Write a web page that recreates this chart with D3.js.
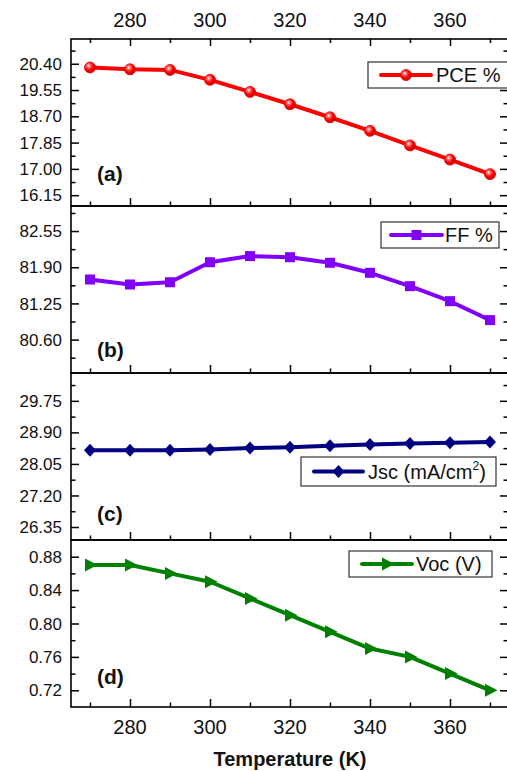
<!DOCTYPE html>
<html><head><meta charset="utf-8">
<script src="https://cdn.jsdelivr.net/npm/d3@7"></script>
<style>body{margin:0;background:#fff}svg{display:block;font-family:"Liberation Sans",Arial,sans-serif}</style>
</head><body>
<svg id="c" width="507" height="771"></svg>
<script>
const temps = [270, 280, 290, 300, 310, 320, 330, 340, 350, 360, 370];
const pce = [20.28, 20.22, 20.20, 19.88, 19.49, 19.09, 18.67, 18.23, 17.76, 17.30, 16.83];
const ff  = [81.68, 81.59, 81.63, 81.99, 82.10, 82.08, 81.98, 81.80, 81.56, 81.29, 80.95];
const jsc = [28.42, 28.42, 28.42, 28.44, 28.48, 28.50, 28.54, 28.57, 28.60, 28.62, 28.64];
const voc = [0.87, 0.87, 0.86, 0.85, 0.83, 0.81, 0.79, 0.77, 0.76, 0.74, 0.72];
const xTickLabels = [280, 300, 320, 340, 360];
const xMinor = [270, 290, 310, 330, 350, 370];
const pceTicks = ["16.15", "17.00", "17.85", "18.70", "19.55", "20.40"];
const ffTicks  = ["80.60", "81.25", "81.90", "82.55"];
const jscTicks = ["26.35", "27.20", "28.05", "28.90", "29.75"];
const vocTicks = ["0.72", "0.76", "0.80", "0.84", "0.88"];
const legendNames = ["PCE %", "FF %", "Jsc (mA/cm", "Voc (V)"];
const panelLabels = ["(a)", "(b)", "(c)", "(d)"];

const svg = d3.select("#c");
const L = 71, R = 508, panelH = 167, top0 = 39;
const x = d3.scaleLinear().domain([265.25, 374.5]).range([L, L + (374.5 - 265.25) * 4]);

const defs = svg.append("defs");
const g = defs.append("radialGradient").attr("id", "ball").attr("cx", "38%").attr("cy", "35%").attr("r", "65%");
g.append("stop").attr("offset", "0%").attr("stop-color", "#ffffff");
g.append("stop").attr("offset", "25%").attr("stop-color", "#ff7070");
g.append("stop").attr("offset", "60%").attr("stop-color", "#ff0000");
g.append("stop").attr("offset", "100%").attr("stop-color", "#c80000");

const panels = [
  {vals: pce, ticks: pceTicks, domain: [15.8, 21.2], color: "#ff0000", marker: "circle",
   leg: {x0: 368, x1: 512, y0: 62, y1: 88, l0: 381, l1: 431, tx: 436}},
  {vals: ff, ticks: ffTicks, domain: [80.0, 83.0], color: "#8000ff", marker: "square",
   leg: {x0: 381, x1: 499, y0: 222, y1: 248, l0: 391, l1: 442, tx: 445}},
  {vals: jsc, ticks: jscTicks, domain: [26.0, 30.5], color: "#000080", marker: "diamond",
   leg: {x0: 301, x1: 496, y0: 457, y1: 486, l0: 314, l1: 363, tx: 368}},
  {vals: voc, ticks: vocTicks, domain: [0.70, 0.90], color: "#008000", marker: "triangle",
   leg: {x0: 349, x1: 492, y0: 551, y1: 577, l0: 362, l1: 412, tx: 416}}
];

function drawMarker(sel, type, color) {
  if (type === "circle") {
    sel.append("circle").attr("r", 5.5).attr("fill", "url(#ball)").attr("stroke", "#e00000").attr("stroke-width", 0.8);
  } else if (type === "square") {
    sel.append("rect").attr("x", -5).attr("y", -5).attr("width", 10).attr("height", 10).attr("fill", color);
  } else if (type === "diamond") {
    sel.append("path").attr("d", "M0,-6.5L6,0L0,6.5L-6,0Z").attr("fill", color);
  } else {
    sel.append("path").attr("d", "M-5,-6.5L7.5,0L-5,6.5Z").attr("fill", color);
  }
}

panels.forEach((p, i) => {
  const y0 = top0 + i * panelH, y1 = y0 + panelH;
  const y = d3.scaleLinear().domain(p.domain).range([y1, y0]);
  const pg = svg.append("g");
  const step = (+p.ticks[1]) - (+p.ticks[0]);
  const majors = p.ticks.map(Number);
  const minors = [];
  for (let k = -1; k < majors.length; k++) {
    const v = majors[0] + (k + 0.5) * step;
    if (v > p.domain[0] + 1e-9 && v < p.domain[1] - 1e-9) minors.push(v);
  }
  // left axis
  pg.append("g").attr("transform", `translate(${L},0)`)
    .call(d3.axisRight(y).tickValues(majors).tickSize(8).tickFormat(""))
    .call(a => a.select(".domain").remove())
    .call(a => a.selectAll("line").attr("stroke", "#000").attr("stroke-width", 1.5));
  pg.append("g").attr("transform", `translate(${L},0)`)
    .call(d3.axisRight(y).tickValues(minors).tickSize(4.5).tickFormat(""))
    .call(a => a.select(".domain").remove())
    .call(a => a.selectAll("line").attr("stroke", "#000").attr("stroke-width", 1.5));
  pg.selectAll(".ylab").data(p.ticks).enter().append("text")
    .attr("x", 62).attr("y", d => y(+d)).attr("dy", "0.36em")
    .attr("text-anchor", "end").attr("font-size", 17).attr("fill", "#111").text(d => d);
  // right axis
  pg.append("g").attr("transform", `translate(${R},0)`)
    .call(d3.axisLeft(y).tickValues(majors).tickSize(8).tickFormat(""))
    .call(a => a.select(".domain").remove())
    .call(a => a.selectAll("line").attr("stroke", "#000").attr("stroke-width", 1.5));
  pg.append("g").attr("transform", `translate(${R},0)`)
    .call(d3.axisLeft(y).tickValues(minors).tickSize(4.5).tickFormat(""))
    .call(a => a.select(".domain").remove())
    .call(a => a.selectAll("line").attr("stroke", "#000").attr("stroke-width", 1.5));
  // bottom ticks (inward)
  pg.append("g").attr("transform", `translate(0,${y1})`)
    .call(d3.axisTop(x).tickValues(xTickLabels).tickSize(8).tickFormat(""))
    .call(a => a.select(".domain").remove())
    .call(a => a.selectAll("line").attr("stroke", "#000").attr("stroke-width", 1.5));
  pg.append("g").attr("transform", `translate(0,${y1})`)
    .call(d3.axisTop(x).tickValues(xMinor).tickSize(4.5).tickFormat(""))
    .call(a => a.select(".domain").remove())
    .call(a => a.selectAll("line").attr("stroke", "#000").attr("stroke-width", 1.5));
  if (i === 0) {
    pg.append("g").attr("transform", `translate(0,${y0})`)
      .call(d3.axisBottom(x).tickValues(xTickLabels).tickSize(7).tickFormat(""))
      .call(a => a.select(".domain").remove())
      .call(a => a.selectAll("line").attr("stroke", "#000").attr("stroke-width", 1.5));
    pg.append("g").attr("transform", `translate(0,${y0})`)
      .call(d3.axisBottom(x).tickValues(xMinor).tickSize(4).tickFormat(""))
      .call(a => a.select(".domain").remove())
      .call(a => a.selectAll("line").attr("stroke", "#000").attr("stroke-width", 1.5));
    svg.selectAll(".xt").data(xTickLabels).enter().append("text")
      .attr("x", d => x(d)).attr("y", 20).attr("dy", "0.36em").attr("text-anchor", "middle")
      .attr("font-size", 20).attr("fill", "#111").text(d => d);
  }
  if (i === 3) {
    svg.selectAll(".xb").data(xTickLabels).enter().append("text")
      .attr("x", d => x(d)).attr("y", 727).attr("dy", "0.36em").attr("text-anchor", "middle")
      .attr("font-size", 20).attr("fill", "#111").text(d => d);
  }
  // frame
  pg.append("rect").attr("x", L).attr("y", y0).attr("width", R - L).attr("height", panelH)
    .attr("fill", "none").attr("stroke", "#000").attr("stroke-width", 1.6);

  // data line
  const pts = temps.map((t, k) => [t, p.vals[k]]);
  pg.append("path").datum(pts)
    .attr("d", d3.line().x(d => x(d[0])).y(d => y(d[1])))
    .attr("fill", "none").attr("stroke", p.color).attr("stroke-width", 4).attr("stroke-linejoin", "round");
  pg.selectAll(".m").data(pts).enter().append("g")
    .attr("transform", d => `translate(${x(d[0])},${y(d[1])})`)
    .each(function () { drawMarker(d3.select(this), p.marker, p.color); });

  // panel label
  pg.append("text").attr("x", 97).attr("y", [174, 350, 514, 677][i]).attr("dy", "0.33em")
    .attr("font-size", 21).attr("font-weight", "bold").attr("fill", "#111").text(panelLabels[i]);

  // legend
  const lg = p.leg;
  pg.append("rect").attr("x", lg.x0).attr("y", lg.y0).attr("width", lg.x1 - lg.x0).attr("height", lg.y1 - lg.y0)
    .attr("fill", "#fff").attr("stroke", "#333").attr("stroke-width", 1.2);
  const ly = (lg.y0 + lg.y1) / 2;
  pg.append("line").attr("x1", lg.l0).attr("x2", lg.l1).attr("y1", ly).attr("y2", ly)
    .attr("stroke", p.color).attr("stroke-width", 4).attr("stroke-linecap", "round");
  const mg = pg.append("g").attr("transform", `translate(${(lg.l0 + lg.l1) / 2},${ly})`);
  drawMarker(mg, p.marker, p.color);
  const t = pg.append("text").attr("x", lg.tx).attr("y", ly).attr("dy", "0.36em")
    .attr("font-size", 20).attr("fill", "#111").text(legendNames[i]);
  if (i === 2) {
    t.append("tspan").attr("font-size", 12).attr("dy", "-0.75em").text("2");
    t.append("tspan").attr("font-size", 20).attr("dy", "0.45em").text(")");
  }
});

svg.append("text").attr("x", 290).attr("y", 759).attr("dy", "0.36em").attr("text-anchor", "middle")
  .attr("font-size", 20).attr("font-weight", "bold").attr("fill", "#111").text("Temperature (K)");
</script>
</body></html>
